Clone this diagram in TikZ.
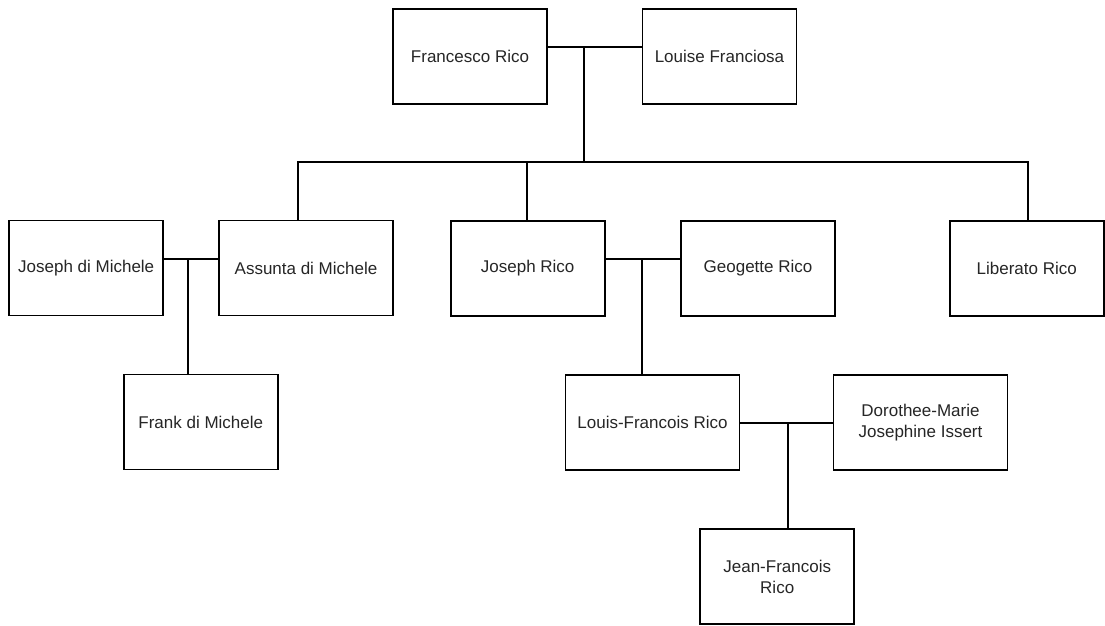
\documentclass[tikz,border=0pt]{standalone}
\usepackage{fontspec}
\setmainfont{Liberation Sans}
\begin{document}
\begin{tikzpicture}[x=1pt,y=-1pt,
  person/.style={draw, line width=1.8pt, fill=white, inner sep=0pt,
    minimum width=154pt, minimum height=95pt, align=center,
    font=\fontsize{17}{21}\selectfont, text=black!85},
  wide/.style={minimum width=174pt},
  link/.style={line width=1.8pt}]
\useasboundingbox (0,0) rectangle (1105,625);

% generation 1
\node[person] (fr) at (470,56.7) {Francesco Rico};
\node[person] (lf) at (719.5,56.7) {Louise Franciosa};

% generation 2
\node[person] (jdm) at (86.2,268) {Joseph di Michele};
\node[person,wide] (adm) at (306,268) {Assunta di Michele};
\node[person] (jr) at (527.7,268.3) {Joseph Rico};
\node[person] (gr) at (758,268.3) {Geogette Rico};
\node[person] (lr) at (1026.7,268.3) {Liberato Rico};

% generation 3
\node[person] (fdm) at (200.8,422) {Frank di Michele};
\node[person,wide] (lfr) at (652.5,422.7) {Louis-Francois Rico};
\node[person,wide] (dm) at (920.5,422.8) {Dorothee-Marie\\Josephine Issert};

% generation 4
\node[person] (jfr) at (777.2,576.7) {Jean-Francois\\Rico};

% junction points on the marriage lines and the sibling bar
\coordinate (m1) at (584.3,46.7);
\coordinate (bar) at (584.3,162.3);
\coordinate (m2) at (187.7,259);
\coordinate (m3) at (642.3,259.3);
\coordinate (m4) at (787.7,423);

% Francesco + Louise and their children
\draw[link] (fr.east |- m1) -- (lf.west |- m1);
\draw[link] (m1) -- (bar);
\draw[link] (adm.north -| 297.7,0) |- (bar) -| (lr.north -| 1027.7,0);
\draw[link] (jr.north -| 527,0) -- (bar -| 527,0);

% Joseph di Michele + Assunta
\draw[link] (jdm.east |- m2) -- (adm.west |- m2);
\draw[link] (m2) -- (fdm.north -| m2);

% Joseph Rico + Geogette
\draw[link] (jr.east |- m3) -- (gr.west |- m3);
\draw[link] (m3) -- (lfr.north -| m3);

% Louis-Francois + Dorothee-Marie
\draw[link] (lfr.east |- m4) -- (dm.west |- m4);
\draw[link] (m4) -- (jfr.north -| m4);
\end{tikzpicture}
\end{document}
